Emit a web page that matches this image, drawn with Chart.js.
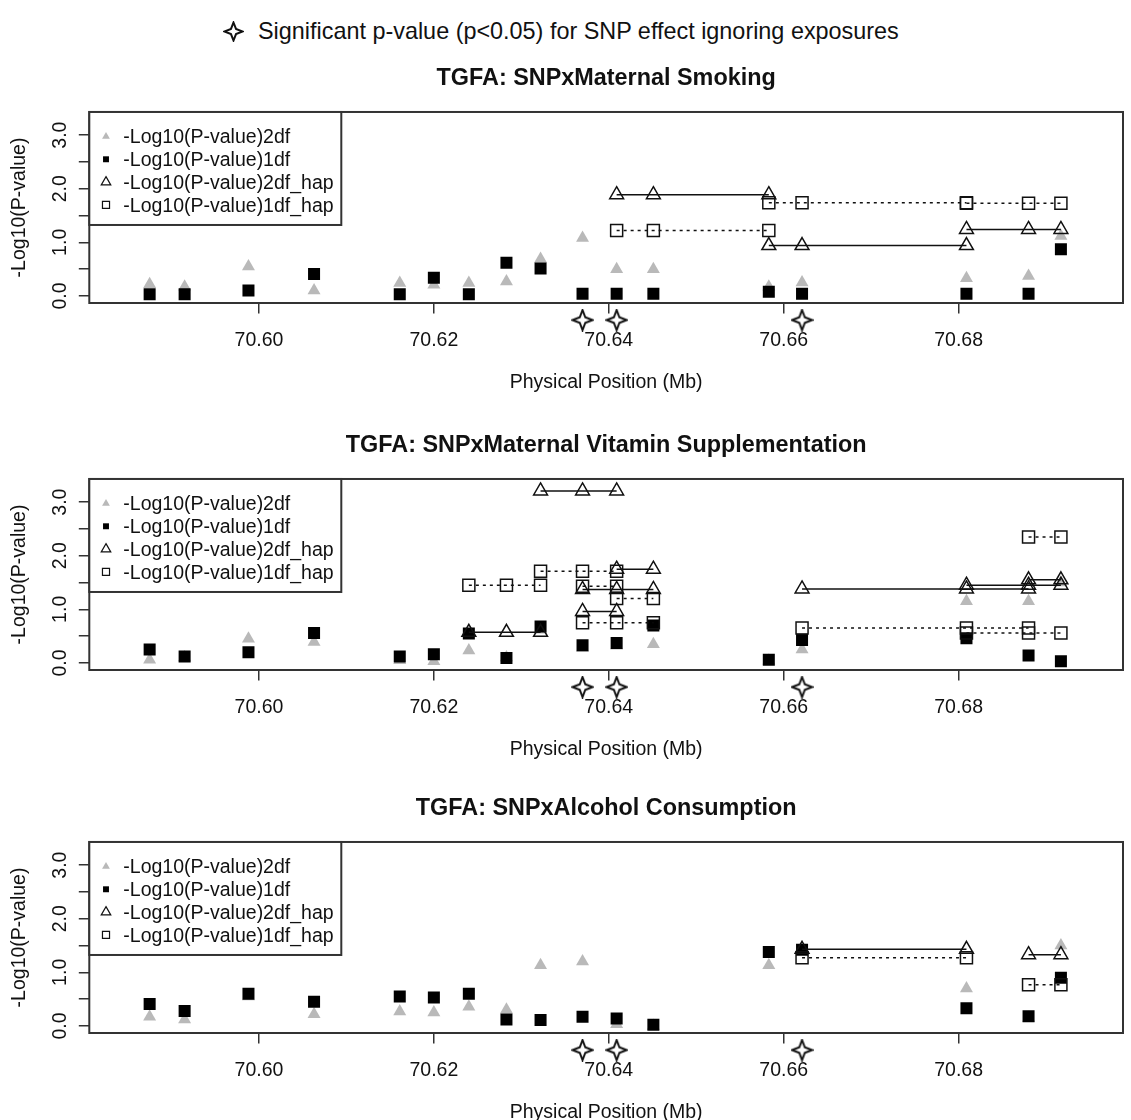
<!DOCTYPE html>
<html>
<head>
<meta charset="utf-8">
<title>TGFA SNP x exposure interaction</title>
<script src="https://cdn.jsdelivr.net/npm/chart.js@4.4.1/dist/chart.umd.min.js"></script>
<style>
  html, body { margin: 0; padding: 0; background: #fff; overflow: hidden; }
  #page { position: relative; width: 1131px; height: 1120px; overflow: hidden; }
  #page canvas.panel { position: absolute; left: 0; }
  #topStar { position: absolute; left: 223px; top: 21px; }
  #topText { position: absolute; left: 258px; top: 18px; line-height: 28px; white-space: nowrap;
             font: 23.4px 'Liberation Sans', Arial, Helvetica, sans-serif; color: #111; }
</style>
</head>
<body>
<div id="page">
  <canvas id="topStar" width="21" height="21"></canvas>
  <div id="topText">Significant p-value (p&lt;0.05) for SNP effect ignoring exposures</div>
</div>
<script>
// --- Data ---
// SNP positions (Mb), shared by the three panels
const snpPos = [70.5875, 70.5915, 70.5988, 70.6063, 70.6161, 70.6200, 70.6240, 70.6283, 70.6322,
                70.6370, 70.6409, 70.6451, 70.6583, 70.6621, 70.6809, 70.6880, 70.6917];
// SNPs significant when ignoring exposures (stars under the axis)
const sigPos = [70.6370, 70.6409, 70.6621];
const xTicks = [70.60, 70.62, 70.64, 70.66, 70.68];
const yTicks = [0, 0.5, 1, 1.5, 2, 2.5, 3];

// Maternal smoking
const smoke2df = [0.22, 0.17, 0.55, 0.10, 0.24, 0.21, 0.24, 0.27, 0.69, 1.08, 0.50, 0.50, 0.17, 0.25, 0.33, 0.37, 1.12];
const smoke1df = [0.03, 0.03, 0.10, 0.41, 0.03, 0.34, 0.03, 0.62, 0.51, 0.04, 0.04, 0.04, 0.08, 0.04, 0.04, 0.04, 0.87];
const smokeBlocks = [[10, 11, 12], [12, 13, 14], [14, 15, 16]]; // indexes into snpPos
const smoke2dfHap = [1.89, 0.94, 1.24];
const smoke1dfHap = [1.22, 1.74, 1.73];

// Maternal vitamin supplementation
const vit2df = [0.06, 0.10, 0.45, 0.39, 0.05, 0.03, 0.23, 0.10, 0.62, 0.28, 0.32, 0.35, 0.04, 0.25, 1.15, 1.15, 1.50];
const vit1df = [0.25, 0.12, 0.20, 0.56, 0.12, 0.16, 0.55, 0.09, 0.68, 0.33, 0.37, 0.70, 0.06, 0.43, 0.46, 0.14, 0.03];
const vitBlocks = [[6, 7, 8], [8, 9, 10], [9, 10, 11], [9, 10], [10, 11], [13, 14, 15], [14, 15, 16], [15, 16]];
const vit2dfHap = [0.57, 3.21, 1.37, 0.96, 1.75, 1.38, 1.45, 1.55];
const vit1dfHap = [1.45, 1.71, 0.75, 1.43, 1.20, 0.65, 0.56, 2.35];

// Alcohol consumption
const alc2df = [0.17, 0.12, 0.55, 0.22, 0.27, 0.25, 0.36, 0.30, 1.13, 1.20, 0.03, 0.00, 1.13, 1.40, 0.70, 0.15, 1.50];
const alc1df = [0.41, 0.28, 0.60, 0.45, 0.55, 0.53, 0.60, 0.12, 0.11, 0.17, 0.14, 0.02, 1.38, 1.42, 0.33, 0.18, 0.90];
const alcBlocks = [[13, 14], [15, 16]];
const alc2dfHap = [1.43, 1.33];
const alc1dfHap = [1.27, 0.77];

const panelTitles = ['TGFA: SNPxMaternal Smoking',
                     'TGFA: SNPxMaternal Vitamin Supplementation',
                     'TGFA: SNPxAlcohol Consumption'];
const legendLabels = ['-Log10(P-value)2df', '-Log10(P-value)1df',
                      '-Log10(P-value)2df_hap', '-Log10(P-value)1df_hap'];

// --- Layout / style ---
const panelTops = [60.3, 427.3, 790];
const xMin = 70.5806, xMax = 70.6988;
const yMin = -0.132, yMax = 3.432;
const starY = -0.45;          // stars sit just below the axis line
const GRAY = '#b9b9b9';
const INK = '#111';
const FRAME = '#333';

Chart.defaults.font.family = "'Liberation Sans', Arial, Helvetica, sans-serif";
Chart.defaults.font.size = 19.5;
Chart.defaults.color = INK;

function makeStar(canvas) {
    const g = canvas.getContext('2d');
    const m = canvas.width / 2, r = m - 1.5, k = canvas.width * 0.12;
    g.beginPath();
    g.moveTo(m, m - r);
    g.lineTo(m + k, m - k);
    g.lineTo(m + r, m);
    g.lineTo(m + k, m + k);
    g.lineTo(m, m + r);
    g.lineTo(m - k, m + k);
    g.lineTo(m - r, m);
    g.lineTo(m - k, m - k);
    g.closePath();
    g.fillStyle = '#fff';
    g.fill();
    g.lineWidth = 2;
    g.strokeStyle = INK;
    g.stroke();
    return canvas;
}

makeStar(document.getElementById('topStar'));
const starImg = document.createElement('canvas');
starImg.width = 23;
starImg.height = 23;
makeStar(starImg);

function buildDatasets(v2df, v1df, blocks, hap2df, hap1df) {
    const pts = vals => snpPos.map((x, i) => ({ x: x, y: vals[i] }));
    const sets = [
        { label: legendLabels[0], data: pts(v2df), pointStyle: 'triangle', pointRadius: 7.5,
          backgroundColor: GRAY, borderColor: GRAY, borderWidth: 0, order: 4 },
        { label: legendLabels[1], data: pts(v1df), pointStyle: 'rect', pointRadius: 8.5,
          backgroundColor: '#000', borderColor: '#000', borderWidth: 0, order: 3 }
    ];
    blocks.forEach((b, j) => {
        sets.push({
            label: legendLabels[3], data: b.map(i => ({ x: snpPos[i], y: hap1df[j] })),
            showLine: true, borderDash: [3, 4], borderWidth: 1.5, borderColor: INK,
            pointStyle: 'rect', pointRadius: 8.5, pointBorderWidth: 1.5,
            pointBackgroundColor: 'rgba(0,0,0,0)', pointBorderColor: INK, order: 2
        });
        sets.push({
            label: legendLabels[2], data: b.map(i => ({ x: snpPos[i], y: hap2df[j] })),
            showLine: true, borderWidth: 1.5, borderColor: INK,
            pointStyle: 'triangle', pointRadius: 8, pointBorderWidth: 1.5,
            pointBackgroundColor: 'rgba(0,0,0,0)', pointBorderColor: INK, order: 1
        });
    });
    return sets;
}

// frame round the plot, the boxed legend in its top-left corner,
// and the star marks under the axis (Chart.js skips points outside the plot area)
const frameAndLegend = {
    id: 'frameAndLegend',
    afterDraw(chart) {
        const { ctx, chartArea: a, scales } = chart;
        const H = Chart.helpers;
        ctx.save();
        ctx.lineWidth = 2;
        ctx.strokeStyle = FRAME;
        ctx.strokeRect(a.left, a.top, a.right - a.left, a.bottom - a.top);

        sigPos.forEach(p => {
            H.drawPoint(ctx, { pointStyle: starImg, radius: 11, rotation: 0, borderWidth: 0 },
                        scales.x.getPixelForValue(p), scales.y.getPixelForValue(starY));
        });

        const w = 252, h = 113;
        ctx.fillStyle = '#fff';
        ctx.fillRect(a.left, a.top, w, h);
        ctx.lineWidth = 2;
        ctx.strokeStyle = FRAME;
        ctx.strokeRect(a.left, a.top, w, h);

        const symbols = [
            { pointStyle: 'triangle', radius: 4.5, fill: GRAY, stroke: GRAY, bw: 0 },
            { pointStyle: 'rect', radius: 4.2, fill: '#000', stroke: '#000', bw: 0 },
            { pointStyle: 'triangle', radius: 5.5, fill: '#fff', stroke: INK, bw: 1.2 },
            { pointStyle: 'rect', radius: 5, fill: '#fff', stroke: INK, bw: 1.2 }
        ];
        ctx.font = "19.5px 'Liberation Sans', Arial, Helvetica, sans-serif";
        ctx.textBaseline = 'middle';
        ctx.textAlign = 'left';
        legendLabels.forEach((label, i) => {
            const y = a.top + 26 + i * 22.8;
            const s = symbols[i];
            ctx.fillStyle = s.fill;
            ctx.strokeStyle = s.stroke;
            ctx.lineWidth = s.bw;
            H.drawPoint(ctx, { pointStyle: s.pointStyle, radius: s.radius, rotation: 0, borderWidth: s.bw },
                        a.left + 16.7, y - 1.5);
            ctx.fillStyle = INK;
            ctx.fillText(label, a.left + 34, y);
        });
        ctx.restore();
    }
};

function makePanel(idx, v2df, v1df, blocks, hap2df, hap1df) {
    const canvas = document.createElement('canvas');
    canvas.className = 'panel';
    canvas.width = 1133;
    canvas.height = 345;
    canvas.style.top = panelTops[idx] + 'px';
    document.getElementById('page').appendChild(canvas);

    return new Chart(canvas, {
        type: 'scatter',
        data: { datasets: buildDatasets(v2df, v1df, blocks, hap2df, hap1df) },
        options: {
            responsive: false,
            animation: false,
            events: [],
            layout: { padding: 0 },
            plugins: {
                legend: { display: false },
                tooltip: { enabled: false },
                title: {
                    display: true, text: panelTitles[idx], fullSize: false, color: INK,
                    font: { size: 23.4, weight: 'bold' },
                    padding: { top: 5, bottom: 18.9 }
                }
            },
            scales: {
                x: {
                    type: 'linear', min: xMin, max: xMax,
                    afterBuildTicks: s => { s.ticks = xTicks.map(v => ({ value: v })); },
                    afterFit: s => { s.height = 102; },
                    ticks: { autoSkip: false, maxRotation: 0, padding: 15.3, color: INK,
                             callback: v => v.toFixed(2) },
                    grid: { drawOnChartArea: false, tickLength: 10.5, color: FRAME, lineWidth: 1.5 },
                    border: { display: false },
                    title: { display: true, text: 'Physical Position (Mb)', color: INK,
                             padding: { top: 0, bottom: 10.3 } }
                },
                y: {
                    type: 'linear', min: yMin, max: yMax,
                    afterBuildTicks: s => { s.ticks = yTicks.map(v => ({ value: v })); },
                    afterFit: s => { s.width = 89.3; },
                    ticks: { autoSkip: false, minRotation: 90, maxRotation: 90, crossAlign: 'center',
                             padding: 5, color: INK,
                             callback: v => (Number.isInteger(v) ? v.toFixed(1) : '') },
                    grid: { drawOnChartArea: false, tickLength: 10.5, color: FRAME, lineWidth: 1.5 },
                    border: { display: false },
                    title: { display: true, text: '-Log10(P-value)', color: INK,
                             padding: { top: 7.9, bottom: 0 } }
                }
            }
        },
        plugins: [frameAndLegend]
    });
}

makePanel(0, smoke2df, smoke1df, smokeBlocks, smoke2dfHap, smoke1dfHap);
makePanel(1, vit2df, vit1df, vitBlocks, vit2dfHap, vit1dfHap);
makePanel(2, alc2df, alc1df, alcBlocks, alc2dfHap, alc1dfHap);
</script>
</body>
</html>
